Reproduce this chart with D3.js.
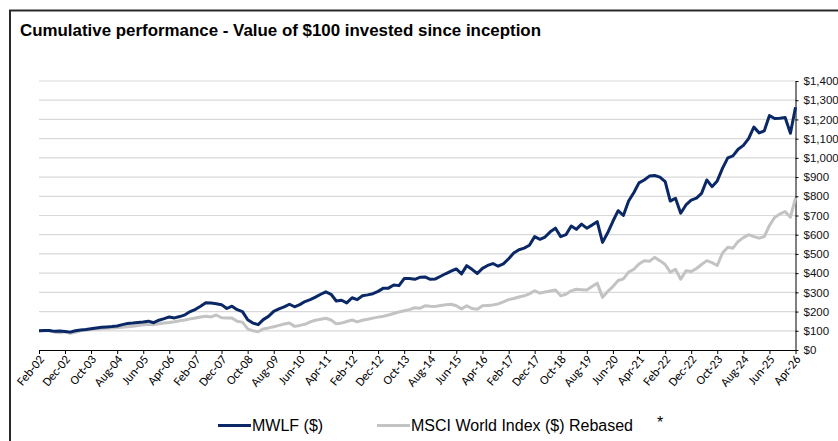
<!DOCTYPE html>
<html>
<head>
<meta charset="utf-8">
<script src="https://cdn.jsdelivr.net/npm/d3@7"></script>
<style>
  body { margin: 0; background: #fff; }
  svg { display: block; }
</style>
</head>
<body>
<svg id="chart" width="838" height="441"></svg>
<script>
// values every 2 months, Feb-02 .. Apr-26
const startMonth = '2002-02'
const stepMonths = 2

const mwlf = [
  100, 101, 102, 97, 99, 96, 93, 100, 104, 107,
  111, 115, 118, 120, 122, 125, 132, 138, 140, 143,
  146, 150, 142, 155, 163, 172, 167, 174, 183, 200,
  212, 228, 246, 245, 241, 236, 216, 228, 210, 200,
  158, 140, 132, 158, 175, 201, 214, 224, 238, 225,
  236, 252, 262, 275, 290, 303, 290, 255, 259, 245,
  272, 262, 282, 287, 293, 305, 322, 322, 338, 335,
  372, 372, 368, 378, 380, 368, 370, 384, 398, 410,
  422, 396, 439, 420, 398, 425, 440, 450, 436, 448,
  475, 505, 522, 530, 545, 590, 576, 588, 615, 634,
  590, 600, 645, 628, 655, 634, 650, 668, 560, 610,
  670, 725, 700, 775, 820, 870, 885, 905, 908, 900,
  876, 775, 790, 712, 755, 780, 790, 815, 885, 850,
  880, 945, 1000, 1010, 1045, 1065, 1100, 1160, 1130, 1140,
  1220, 1205, 1206, 1210, 1128, 1263
]

const msci = [
  100, 100, 100, 94, 90, 95, 87, 92, 100, 103,
  106, 109, 111, 113, 115, 116, 119, 121, 124, 127,
  131, 134, 132, 137, 141, 143, 147, 152, 156, 162,
  167, 172, 176, 172, 182, 168, 167, 166, 150, 145,
  110, 100, 95, 110, 115, 121, 128, 135, 140, 123,
  128, 134, 146, 155, 160, 165, 156, 136, 140, 148,
  156, 146, 155, 160, 166, 171, 176, 182, 190, 198,
  204, 210, 220, 217, 230, 228, 227, 232, 236, 238,
  230, 214, 230, 216, 212, 230, 232, 234, 240, 250,
  262, 268, 276, 282, 292, 308, 296, 302, 307, 312,
  282, 290, 308, 316, 314, 312, 330, 348, 274, 305,
  330, 362, 370, 405, 420, 448, 465, 462, 482, 465,
  445, 405, 420, 368, 412, 408, 424, 445, 465, 455,
  440, 505, 535, 530, 565, 585, 600, 590, 582, 590,
  648, 690, 708, 720, 691, 790
]

const xTickLabels = [
  'Feb-02', 'Dec-02', 'Oct-03', 'Aug-04', 'Jun-05', 'Apr-06', 'Feb-07', 'Dec-07',
  'Oct-08', 'Aug-09', 'Jun-10', 'Apr-11', 'Feb-12', 'Dec-12', 'Oct-13', 'Aug-14',
  'Jun-15', 'Apr-16', 'Feb-17', 'Dec-17', 'Oct-18', 'Aug-19', 'Jun-20', 'Apr-21',
  'Feb-22', 'Dec-22', 'Oct-23', 'Aug-24', 'Jun-25', 'Apr-26'
]
const yTicks = [0, 100, 200, 300, 400, 500, 600, 700, 800, 900, 1000, 1100, 1200, 1300, 1400]

const seriesNames = ['MWLF ($)', 'MSCI World Index ($) Rebased']
const seriesColors = ['#0b2866', '#c3c3c3']

const width = 838
const height = 441
const plotLeft = 39
const plotRight = 795.5
const plotTop = 81
const plotBottom = 350

const parseMonth = d3.timeParse('%Y-%m')
const parseTick = d3.timeParse('%b-%y')
const start = parseMonth(startMonth)
const dates = mwlf.map((d, i) => d3.timeMonth.offset(start, i * stepMonths))

const svg = d3.select('#chart')

svg.append('rect')
    .attr('width', width)
    .attr('height', height)
    .attr('fill', '#fff')

// frame
svg.append('rect')
    .attr('x', 10)
    .attr('y', 10.5)
    .attr('width', width + 20)
    .attr('height', height + 20)
    .attr('fill', 'none')
    .attr('stroke', '#2a2a2a')
    .attr('stroke-width', 2)

svg.append('text')
    .text('Cumulative performance - Value of $100 invested since inception')
    .attr('x', 20)
    .attr('y', 36)
    .attr('font-family', 'Arial, "Liberation Sans", sans-serif')
    .attr('font-weight', 'bold')
    .attr('font-size', 16.9)
    .attr('fill', '#000')

const xScale = d3.scaleTime()
    .domain([start, dates[dates.length - 1]])
    .range([plotLeft, plotRight])

const yScale = d3.scaleLinear()
    .domain([0, 1400])
    .range([plotBottom, plotTop])

// gridlines
svg.append('g')
  .selectAll('line')
  .data(yTicks.filter(d => d > 0))
  .join('line')
    .attr('x1', plotLeft)
    .attr('x2', plotRight)
    .attr('y1', d => yScale(d))
    .attr('y2', d => yScale(d))
    .attr('stroke', '#d9d9d9')
    .attr('stroke-width', 1.2)

// right axis
const yAxis = svg.append('g')
    .attr('transform', `translate(${plotRight},0)`)
    .call(d3.axisRight(yScale)
      .tickValues(yTicks)
      .tickFormat(d3.format('$,'))
      .tickSize(3)
      .tickSizeOuter(0)
      .tickPadding(5))
yAxis.selectAll('text')
    .attr('font-family', 'Arial, "Liberation Sans", sans-serif')
    .attr('font-size', 11.5)
    .attr('fill', '#111')
yAxis.selectAll('path, line').attr('stroke', '#000')

// bottom axis
const xAxis = svg.append('g')
    .attr('transform', `translate(0,${plotBottom})`)
    .call(d3.axisBottom(xScale)
      .tickValues(xTickLabels.map(parseTick))
      .tickFormat(d3.timeFormat('%b-%y'))
      .tickSize(4)
      .tickSizeOuter(0))
xAxis.selectAll('path, line').attr('stroke', '#000')
xAxis.selectAll('text')
    .attr('font-family', 'Carlito, Lato, sans-serif')
    .attr('font-size', 12.5)
    .attr('fill', '#000')
    .attr('text-anchor', 'end')
    .attr('x', -4)
    .attr('y', 6)
    .attr('dy', '0.35em')
    .attr('transform', 'rotate(-50)')

const line = d3.line()
    .x((d, i) => xScale(dates[i]))
    .y(d => yScale(d))

svg.append('path')
    .datum(msci)
    .attr('d', line)
    .attr('fill', 'none')
    .attr('stroke', seriesColors[1])
    .attr('stroke-width', 3)
    .attr('stroke-linejoin', 'round')

svg.append('path')
    .datum(mwlf)
    .attr('d', line)
    .attr('fill', 'none')
    .attr('stroke', seriesColors[0])
    .attr('stroke-width', 3)
    .attr('stroke-linejoin', 'round')

// legend
const legendX = [218, 377]
const legend = svg.append('g')
    .attr('font-family', 'Arial, "Liberation Sans", sans-serif')
    .attr('font-size', 16)

seriesNames.forEach((name, i) => {
  legend.append('line')
      .attr('x1', legendX[i])
      .attr('x2', legendX[i] + 33)
      .attr('y1', 425.5)
      .attr('y2', 425.5)
      .attr('stroke', seriesColors[i])
      .attr('stroke-width', 3)
  legend.append('text')
      .text(name)
      .attr('x', legendX[i] + 34)
      .attr('y', 431)
      .attr('fill', '#000')
})

legend.append('text')
    .text('*')
    .attr('x', 657)
    .attr('y', 428)
    .attr('fill', '#000')
</script>
</body>
</html>
